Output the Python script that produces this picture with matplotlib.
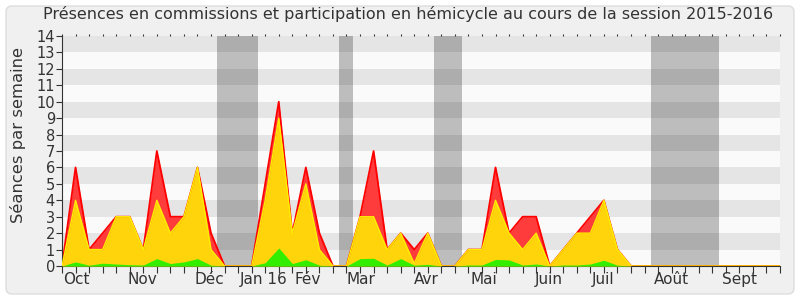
import matplotlib
matplotlib.use('Agg')
import matplotlib.pyplot as plt
import matplotlib.transforms as mtransforms
from matplotlib.patches import FancyBboxPatch

plt.rcParams['font.family'] = ['DejaVu Sans']

# une valeur par semaine, de mi-septembre 2015 a mi-septembre 2016
semaines = list(range(54))
total = [0, 6, 1, 2, 3, 3, 1, 7, 3, 3, 6, 2, 0, 0,
         0, 5, 10, 2, 6, 2, 0, 0, 3, 7, 1, 2, 1, 2,
         0, 0, 1, 1, 6, 2, 3, 3, 0, 1, 2, 3, 4, 1,
         0, 0, 0, 0, 0, 0, 0, 0, 0, 0, 0, 0]
hemicycle = [0, 4, 1, 1, 3, 3, 1, 4, 2, 3, 6, 1, 0, 0,
             0, 4, 9, 2, 5, 1, 0, 0, 3, 3, 1, 2, 0.15, 2,
             0, 0, 1, 1, 4, 2, 1, 2, 0, 1, 2, 2, 4, 1,
             0, 0, 0, 0, 0, 0, 0, 0, 0, 0, 0, 0]
interventions = [0, 0.25, 0.05, 0.17, 0.12, 0.08, 0.06, 0.45, 0.15, 0.25, 0.45, 0.05, 0, 0,
                 0, 0.2, 1.1, 0.15, 0.38, 0.05, 0, 0, 0.45, 0.47, 0.06, 0.45, 0.05, 0.1,
                 0, 0, 0.06, 0.06, 0.4, 0.37, 0.06, 0.12, 0, 0.06, 0.06, 0.12, 0.35, 0.05,
                 0, 0, 0, 0, 0, 0, 0, 0, 0, 0, 0, 0]

# vacances parlementaires (en semaines)
vacances = [(11.45, 14.47), (20.45, 21.48), (27.46, 29.52), (43.48, 48.5)]

mois = ['Oct', 'Nov', 'Déc', 'Jan 16', 'Fév', 'Mar', 'Avr', 'Mai', 'Juin', 'Juil', 'Août', 'Sept']
mois_pos = [1.08, 5.9, 10.9, 14.9, 18.1, 22.1, 26.92, 31.13, 35.94, 39.92, 44.95, 50.0]

fig = plt.figure(figsize=(8, 3), dpi=100, facecolor='white')
fond = FancyBboxPatch((6, 6), 788, 288, boxstyle='round,pad=0,rounding_size=6',
                      transform=None, facecolor='#f0f0f0', edgecolor='#dddddd', lw=1, zorder=-10)
fig.patches.append(fond)

ax = fig.add_axes([62 / 800, 34 / 300, 718 / 800, 230 / 300])
ax.set_facecolor('#fafafa')

for k in range(1, 14, 2):
    ax.axhspan(k, k + 1, color='#e5e5e5', lw=0, zorder=0)
for a, b in vacances:
    ax.axvspan(a, b, color='black', alpha=0.245, lw=0, zorder=1)

ax.fill_between(semaines, 0, total, color='#ff3c3c', lw=0, zorder=2)
ax.plot(semaines, total, color='#ff0000', lw=1.3, zorder=2)
ax.fill_between(semaines, 0, hemicycle, color='#ffd40a', lw=0, zorder=3)
ax.plot(semaines, hemicycle, color='#ffee00', lw=1.0, zorder=3)
ax.fill_between(semaines, 0, interventions, color='#33ee00', lw=0, zorder=4)

ax.set_xlim(0, 53)
ax.set_ylim(0, 14)
ax.set_yticks(range(15))
ax.set_xticks(semaines)
ax.set_xticklabels([])
ax.tick_params(axis='y', labelsize=10.5, length=4, color='#333333', labelcolor='#333333', pad=1)
ax.tick_params(axis='x', length=5, color='#333333', top=True, direction='out')
for s in ['top', 'right']:
    ax.spines[s].set_visible(False)
ax.spines['left'].set_color('#333333')
ax.spines['bottom'].set_color('#333333')

# petits traits en haut
for t in ax.xaxis.get_major_ticks():
    t.tick2line.set_markersize(1.5)

trans = mtransforms.blended_transform_factory(ax.transData, ax.transAxes)
for m, p in zip(mois, mois_pos):
    ax.text(p, -0.06, m, transform=trans, ha='center', va='center', fontsize=11, color='#333333')

fig.text(0.51, 0.955, 'Présences en commissions et participation en hémicycle au cours de la session 2015-2016',
         ha='center', va='center', fontsize=11.5, color='#333333')
fig.text(0.0225, 0.55, 'Séances par semaine', rotation=90, ha='center', va='center',
         fontsize=11.8, color='#333333')

fig.savefig('out.png', dpi=100, facecolor=fig.get_facecolor())
